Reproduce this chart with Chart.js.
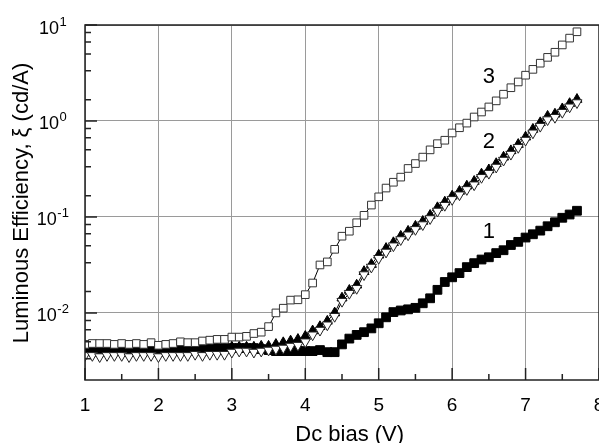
<!DOCTYPE html>
<html>
<head>
<meta charset="utf-8">
<script src="https://cdn.jsdelivr.net/npm/chart.js@4.4.1/dist/chart.umd.min.js"></script>
<style>
  html, body { margin: 0; padding: 0; background: #fff; }
  #chart { display: block; }
</style>
</head>
<body>
<canvas id="chart" width="599" height="443"></canvas>
<script>
// Dc bias values (V), one point every 0.1 V
const biasVolts = [
  1.0, 1.1, 1.2, 1.3, 1.4, 1.5, 1.6, 1.7, 1.8, 1.9,
  2.0, 2.1, 2.2, 2.3, 2.4, 2.5, 2.6, 2.7, 2.8, 2.9,
  3.0, 3.1, 3.2, 3.3, 3.4, 3.5, 3.6, 3.7, 3.8, 3.9,
  4.0, 4.1, 4.2, 4.3, 4.4, 4.5, 4.6, 4.7, 4.8, 4.9,
  5.0, 5.1, 5.2, 5.3, 5.4, 5.5, 5.6, 5.7, 5.8, 5.9,
  6.0, 6.1, 6.2, 6.3, 6.4, 6.5, 6.6, 6.7, 6.8, 6.9,
  7.0, 7.1, 7.2, 7.3, 7.4, 7.5, 7.6, 7.7
];

// curve 1 - filled squares
const curve1 = [
  0.0041, 0.0041, 0.0040, 0.0041, 0.0041, 0.0040, 0.0041, 0.0041, 0.0040, 0.0041,
  0.0041, 0.0040, 0.0041, 0.0041, 0.0041, 0.0042, 0.0042, 0.0042, 0.0043, 0.0043,
  0.0043, 0.0043, 0.0043, 0.0043, 0.0042, 0.0041, 0.0040, 0.0040, 0.0040, 0.0040,
  0.0040, 0.0040, 0.0041, 0.0039, 0.0039, 0.0047, 0.0054, 0.0059, 0.0063, 0.0069,
  0.0078, 0.0090, 0.0102, 0.0106, 0.0109, 0.0113, 0.0126, 0.0142, 0.0174, 0.0210,
  0.0235, 0.026, 0.030, 0.033, 0.036, 0.038, 0.042, 0.045, 0.051, 0.055,
  0.061, 0.066, 0.072, 0.080, 0.088, 0.098, 0.106, 0.116
];

// curve 2 - black up triangles
const curve2Up = [
  0.0041, 0.0041, 0.0041, 0.0041, 0.0041, 0.0041, 0.0041, 0.0041, 0.0041, 0.0041,
  0.0041, 0.0041, 0.0041, 0.0042, 0.0042, 0.0042, 0.0042, 0.0043, 0.0043, 0.0043,
  0.0044, 0.0044, 0.0044, 0.0044, 0.0045, 0.0045, 0.0047, 0.0049, 0.0051, 0.0053,
  0.0057, 0.0065, 0.0072, 0.0082, 0.0100, 0.0143, 0.0172, 0.0195, 0.027, 0.032,
  0.040, 0.047, 0.054, 0.063, 0.071, 0.080, 0.090, 0.104, 0.125, 0.143,
  0.165, 0.185, 0.21, 0.235, 0.28, 0.31, 0.36, 0.42, 0.49, 0.57,
  0.68, 0.82, 0.96, 1.12, 1.18, 1.34, 1.52, 1.68
];

// curve 2 - open down triangles
const curve2Down = [
  0.0036, 0.0036, 0.0035, 0.0036, 0.0036, 0.0036, 0.0035, 0.0036, 0.0036, 0.0036,
  0.0035, 0.0036, 0.0036, 0.0036, 0.0036, 0.0037, 0.0036, 0.0037, 0.0037, 0.0037,
  0.0039, 0.0040, 0.0040, 0.0039, 0.0040, 0.0041, 0.0042, 0.0043, 0.0045, 0.0046,
  0.0050, 0.0059, 0.0066, 0.0075, 0.0092, 0.0132, 0.0160, 0.0180, 0.025, 0.030,
  0.037, 0.043, 0.050, 0.058, 0.065, 0.074, 0.083, 0.096, 0.115, 0.132,
  0.152, 0.170, 0.193, 0.216, 0.258, 0.285, 0.33, 0.39, 0.45, 0.53,
  0.63, 0.75, 0.88, 1.03, 1.09, 1.23, 1.40, 1.55
];

// curve 3 - open squares
const curve3 = [
  0.0047, 0.0048, 0.0048, 0.0048, 0.0047, 0.0048, 0.0047, 0.0048, 0.0047, 0.0049,
  0.0046, 0.0047, 0.0048, 0.0050, 0.0049, 0.0049, 0.0051, 0.0052, 0.0053, 0.0053,
  0.0056, 0.0056, 0.0057, 0.0061, 0.0063, 0.0072, 0.0100, 0.0112, 0.0136, 0.0137,
  0.0155, 0.0205, 0.0316, 0.034, 0.046, 0.063, 0.071, 0.087, 0.104, 0.133,
  0.162, 0.20, 0.23, 0.26, 0.32, 0.36, 0.42, 0.50, 0.58, 0.63,
  0.75, 0.85, 0.95, 1.10, 1.24, 1.40, 1.62, 1.90, 2.22, 2.55,
  3.0, 3.45, 4.0, 4.6, 5.2, 6.2, 7.3, 8.5
];

const xTicks = [1, 2, 3, 4, 5, 6, 7, 8];
const xMinorTicks = [1.5, 2.5, 3.5, 4.5, 5.5, 6.5, 7.5];
const yDecades = [0.01, 0.1, 1, 10];
const yExponents = ['-2', '-1', '0', '1'];
const yMinorSteps = [1.667, 3.333, 5, 6.667, 8.333];

// curve numbers written next to each curve
const curveNames = ['1', '2', '3'];
const curveNameX = [6.5, 6.5, 6.5];
const curveNameY = [0.061, 0.52, 2.48];

function toPoints(values) {
  return biasVolts.map((v, i) => ({ x: v, y: values[i] }));
}

const FONT = '"Liberation Sans", Arial, sans-serif';

// frame, inward ticks, tick labels, axis titles and curve numbers
const decorations = {
  id: 'decorations',
  afterDraw(chart) {
    const { ctx, chartArea: a, scales: { x, y } } = chart;
    ctx.save();

    ctx.strokeStyle = '#222';
    ctx.lineWidth = 1.5;
    ctx.strokeRect(a.left, a.top, a.right - a.left, a.bottom - a.top);

    ctx.beginPath();
    xTicks.forEach(v => {
      const px = x.getPixelForValue(v);
      ctx.moveTo(px, a.bottom); ctx.lineTo(px, a.bottom - 12);
    });
    xMinorTicks.forEach(v => {
      const px = x.getPixelForValue(v);
      ctx.moveTo(px, a.bottom); ctx.lineTo(px, a.bottom - 6);
    });
    yDecades.forEach(v => {
      const py = y.getPixelForValue(v);
      ctx.moveTo(a.left, py); ctx.lineTo(a.left + 12, py);
    });
    [0.001, 0.01, 0.1, 1].forEach(base => {
      yMinorSteps.forEach(m => {
        const v = base * m;
        if (v < y.min || v > y.max) return;
        const py = y.getPixelForValue(v);
        ctx.moveTo(a.left, py); ctx.lineTo(a.left + 6, py);
      });
    });
    ctx.stroke();

    ctx.fillStyle = '#000';
    ctx.textBaseline = 'alphabetic';

    // x tick labels
    ctx.font = '19px ' + FONT;
    ctx.textAlign = 'center';
    xTicks.forEach(v => ctx.fillText(String(v), x.getPixelForValue(v), 411));

    // y tick labels as 10 with superscript
    ctx.textAlign = 'left';
    yDecades.forEach((v, i) => {
      const py = y.getPixelForValue(v);
      ctx.font = '18px ' + FONT;
      const wBase = ctx.measureText('10').width;
      ctx.font = '13px ' + FONT;
      const wExp = ctx.measureText(yExponents[i]).width;
      const left = 52.6 - (wBase + wExp) / 2;
      ctx.font = '18px ' + FONT;
      ctx.fillText('10', left, py + 8.5);
      ctx.font = '13px ' + FONT;
      ctx.fillText(yExponents[i], left + wBase + 0.5, py + 0.5);
    });

    // axis titles
    ctx.font = '22px ' + FONT;
    ctx.textAlign = 'center';
    ctx.fillText('Dc bias (V)', 349.7, 440.5);
    ctx.save();
    ctx.translate(28, 203);
    ctx.rotate(-Math.PI / 2);
    ctx.fillText('Luminous Efficiency, \u03BE (cd/A)', 0, 0);
    ctx.restore();

    // curve numbers
    ctx.font = '22px ' + FONT;
    curveNames.forEach((t, i) => {
      ctx.fillText(t, x.getPixelForValue(curveNameX[i]), y.getPixelForValue(curveNameY[i]));
    });

    ctx.restore();
  }
};

new Chart(document.getElementById('chart'), {
  type: 'scatter',
  data: {
    datasets: [
      {
        label: '3',
        data: toPoints(curve3),
        showLine: true,
        borderColor: '#000',
        borderWidth: 1,
        pointStyle: 'rect',
        pointRadius: 5.4,
        pointBorderWidth: 1,
        pointBorderColor: '#333',
        pointBackgroundColor: '#fff',
        order: 0
      },
      {
        label: '2 (open)',
        data: toPoints(curve2Down),
        showLine: true,
        borderColor: '#000',
        borderWidth: 1,
        pointStyle: 'triangle',
        pointRotation: 180,
        pointRadius: 5.8,
        pointBorderWidth: 1,
        pointBorderColor: '#222',
        pointBackgroundColor: '#fff',
        order: 1
      },
      {
        label: '2 (filled)',
        data: toPoints(curve2Up),
        showLine: true,
        borderColor: '#000',
        borderWidth: 1,
        pointStyle: 'triangle',
        pointRadius: 5.8,
        pointBorderWidth: 1,
        pointBorderColor: '#000',
        pointBackgroundColor: '#000',
        order: 2
      },
      {
        label: '1',
        data: toPoints(curve1),
        showLine: true,
        borderColor: '#000',
        borderWidth: 1,
        pointStyle: 'rect',
        pointRadius: 6.2,
        pointBorderWidth: 1,
        pointBorderColor: '#000',
        pointBackgroundColor: '#000',
        order: 3
      }
    ]
  },
  options: {
    responsive: false,
    animation: false,
    devicePixelRatio: 1,
    layout: { autoPadding: false, padding: { left: 0, right: 0, top: 25, bottom: 0 } },
    plugins: { legend: { display: false }, tooltip: { enabled: false } },
    scales: {
      x: {
        type: 'linear',
        min: 1,
        max: 8,
        afterBuildTicks: s => { s.ticks = xTicks.map(v => ({ value: v })); },
        afterFit: s => { s.height = 63; },
        ticks: { display: false },
        border: { display: false },
        grid: { color: '#9a9a9a', lineWidth: 1, drawTicks: false }
      },
      y: {
        type: 'logarithmic',
        min: 0.002,
        max: 10,
        afterBuildTicks: s => { s.ticks = yDecades.map(v => ({ value: v })); },
        afterFit: s => { s.width = 85; },
        ticks: { display: false },
        border: { display: false },
        grid: { color: '#9a9a9a', lineWidth: 1, drawTicks: false }
      }
    }
  },
  plugins: [decorations]
});
</script>
</body>
</html>
